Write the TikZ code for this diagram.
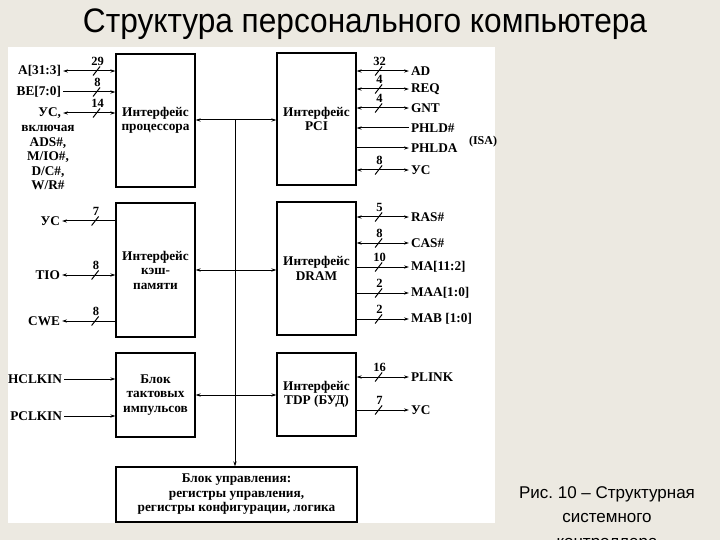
\documentclass[tikz,border=0pt]{standalone}
\usepackage{fontspec}
\setmainfont{Liberation Serif}
\newfontfamily\titlefont[FakeStretch=0.93]{Liberation Sans}
\newfontfamily\capfont{Liberation Sans}
\usetikzlibrary{arrows.meta}
\definecolor{bg}{RGB}{236,233,225}
\frenchspacing
\newcommand\bmark[2]{%
  \draw[line width=1pt] ([shift={(-3.5,4.5)}]#1) -- ([shift={(3.5,-4.5)}]#1);
  \node[num] (#1n) at ([shift={(1,-9.5)}]#1) {#2};}
\begin{document}
\begin{tikzpicture}[x=1pt,y=-1pt,
  dfont/.style={font=\bfseries\fontsize{13.3}{14.5}\selectfont},
  box/.style={draw, line width=1.2pt, align=center, dfont, inner sep=1pt},
  sig/.style={dfont, inner sep=1.5pt, align=center},
  num/.style={font=\bfseries\fontsize{12.5}{13}\selectfont, inner sep=0pt},
  tip/.style={-{Stealth[length=5pt,width=3.2pt]}},
  rtip/.style={{Stealth[length=5pt,width=3.2pt]}-},
  bi/.style={{Stealth[length=5pt,width=3.2pt]}-{Stealth[length=5pt,width=3.2pt]}},
  every path/.style={line width=1pt}]
\useasboundingbox (0,0) rectangle (720,540);
\fill[bg] (0,0) rectangle (720,540);
\fill[white] (8,47) rectangle (495,523);

\node[font=\titlefont\fontsize{34}{40}\selectfont] (title) at (365,24) {Структура персонального компьютера};
\node[font=\capfont\fontsize{17}{24.5}\selectfont, align=center, anchor=north, inner sep=0pt] (cap) at (607,486) {Рис. 10 – Структурная\\системного\\контроллера};

% boxes
\node[box, minimum width=79pt, minimum height=133pt] (proc) at (155.5,120.5) {Интерфейс\\процессора};
\node[box, minimum width=79pt, minimum height=132pt] (pci) at (316.5,119) {Интерфейс\\PCI};
\node[box, minimum width=79pt, minimum height=134pt] (cache) at (155.5,270) {Интерфейс\\кэш-\\памяти};
\node[box, minimum width=79pt, minimum height=133pt] (dram) at (316.5,268.5) {Интерфейс\\DRAM};
\node[box, minimum width=79pt, minimum height=84pt] (clk) at (155.5,395) {Блок\\тактовых\\импульсов};
\node[box, minimum width=79pt, minimum height=83pt] (tdp) at (316.5,394.5) {Интерфейс\\TDP (БУД)};
\node[box, minimum width=241pt, minimum height=55pt] (ctrl) at (236.5,494.5) {Блок управления:\\регистры управления,\\регистры конфигурации, логика};

% bus
\coordinate (bt) at (235,120);
\draw[bi] (proc.east |- bt) -- (pci.west |- bt);
\draw[tip] (bt) -- (bt |- ctrl.north);
\draw[bi] (cache.east) -- (cache.east -| dram.west);
\draw[bi] (clk.east) -- (clk.east -| tdp.west);

% processor interface signals
\node[sig, anchor=east] (a31) at (63,71) {A[31:3]};
\node[sig, anchor=east] (be) at (63,92) {BE[7:0]};
\node[sig, anchor=east] (usp) at (63,113) {УС,};
\node[sig, anchor=north] (usp2) at (48,123.5) {включая\\ADS\#,\\M/IO\#,\\D/C\#,\\W/R\#};
\draw[bi] (a31.east) -- coordinate[pos=.64] (m1) (a31.east -| proc.west);
\draw[tip] (be.east) -- coordinate[pos=.64] (m2) (be.east -| proc.west);
\draw[bi] (usp.east) -- coordinate[pos=.64] (m3) (usp.east -| proc.west);
\bmark{m1}{29}\bmark{m2}{8}\bmark{m3}{14}

% cache interface signals
\node[sig, anchor=east] (usc) at (62,221) {УС};
\node[sig, anchor=east] (tio) at (62,275) {TIO};
\node[sig, anchor=east] (cwe) at (62,321) {CWE};
\draw[tip] (usc.east -| cache.west) -- coordinate[pos=.38] (m4) (usc.east);
\draw[bi] (tio.east -| cache.west) -- coordinate[pos=.38] (m5) (tio.east);
\draw[tip] (cwe.east -| cache.west) -- coordinate[pos=.38] (m6) (cwe.east);
\bmark{m4}{7}\bmark{m5}{8}\bmark{m6}{8}

% clock inputs
\node[sig, anchor=east] (hclk) at (64,379) {HCLKIN};
\node[sig, anchor=east] (pclk) at (64,416) {PCLKIN};
\draw[tip] (hclk.east) -- (hclk.east -| clk.west);
\draw[tip] (pclk.east) -- (pclk.east -| clk.west);

% PCI signals
\node[sig, anchor=west] (ad) at (409,71) {AD};
\node[sig, anchor=west] (req) at (409,89) {REQ};
\node[sig, anchor=west] (gnt) at (409,108) {GNT};
\node[sig, anchor=west] (phld) at (409,128) {PHLD\#};
\node[sig, anchor=west] (phlda) at (409,148) {PHLDA};
\node[sig, anchor=west] (uspci) at (409,170) {УС};
\node[sig, font=\bfseries\fontsize{12}{13}\selectfont] (isa) at (483,142) {(ISA)};
\draw[bi] (pci.east |- ad.west) -- coordinate[pos=.42] (m7) (ad.west);
\draw[bi] (pci.east |- req.west) -- coordinate[pos=.42] (m8) (req.west);
\draw[bi] (pci.east |- gnt.west) -- coordinate[pos=.42] (m9) (gnt.west);
\draw[rtip] (pci.east |- phld.west) -- (phld.west);
\draw[tip] (pci.east |- phlda.west) -- (phlda.west);
\draw[bi] (pci.east |- uspci.west) -- coordinate[pos=.42] (m10) (uspci.west);
\bmark{m7}{32}\bmark{m8}{4}\bmark{m9}{4}\bmark{m10}{8}

% DRAM signals
\node[sig, anchor=west] (ras) at (409,217) {RAS\#};
\node[sig, anchor=west] (cas) at (409,243) {CAS\#};
\node[sig, anchor=west] (ma) at (409,267) {MA[11:2]};
\node[sig, anchor=west] (maa) at (409,293) {MAA[1:0]};
\node[sig, anchor=west] (mab) at (409,319) {MAB [1:0]};
\draw[bi] (dram.east |- ras.west) -- coordinate[pos=.42] (m11) (ras.west);
\draw[bi] (dram.east |- cas.west) -- coordinate[pos=.42] (m12) (cas.west);
\draw[tip] (dram.east |- ma.west) -- coordinate[pos=.42] (m13) (ma.west);
\draw[tip] (dram.east |- maa.west) -- coordinate[pos=.42] (m14) (maa.west);
\draw[tip] (dram.east |- mab.west) -- coordinate[pos=.42] (m15) (mab.west);
\bmark{m11}{5}\bmark{m12}{8}\bmark{m13}{10}\bmark{m14}{2}\bmark{m15}{2}

% TDP signals
\node[sig, anchor=west] (plink) at (409,377) {PLINK};
\node[sig, anchor=west] (ustdp) at (409,410) {УС};
\draw[bi] (tdp.east |- plink.west) -- coordinate[pos=.42] (m16) (plink.west);
\draw[tip] (tdp.east |- ustdp.west) -- coordinate[pos=.42] (m17) (ustdp.west);
\bmark{m16}{16}\bmark{m17}{7}
\end{tikzpicture}
\end{document}
